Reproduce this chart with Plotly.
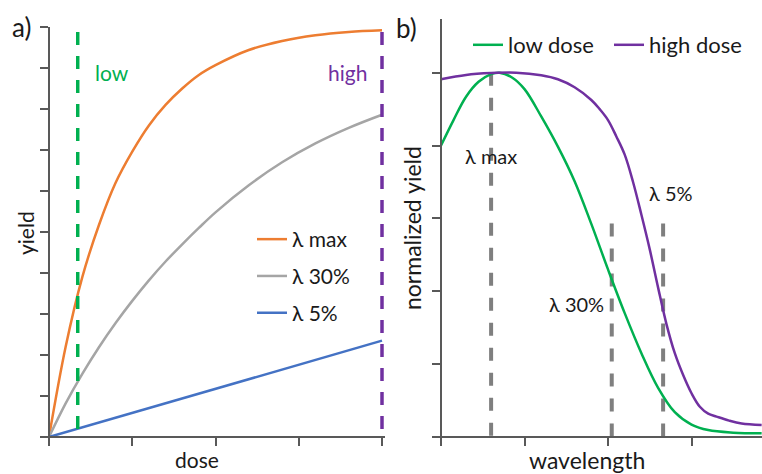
import plotly.graph_objects as go

W, H = 762, 474
FONT = "Lato"

# ---------------- panel a data ----------------
dose = [0, 0.2, 0.4, 0.6, 0.8, 1.0, 1.2, 1.4, 1.6, 1.8, 2.0, 2.4, 2.8, 3.2, 3.6, 4.0]
yield_max = [0, 2.2, 3.9, 5.17, 6.2, 6.96, 7.6, 8.1, 8.5, 8.83, 9.07, 9.44, 9.66,
             9.8, 9.88, 9.92]
yield_30 = [0, 0.82, 1.54, 2.19, 2.78, 3.32, 3.82, 4.28, 4.7, 5.1, 5.48, 6.14, 6.7,
            7.16, 7.54, 7.86]
dose_lin = [0, 1, 2, 3, 4]
yield_5 = [0, 0.59, 1.18, 1.77, 2.35]
low_dose_x = [0.345, 0.345]
high_dose_x = [4, 4]
dose_marker_y = [9.88, 0]
series_a_names = ["λ max", "λ 30%", "λ 5%"]

# ---------------- panel b data ----------------
wl_low = [0, 0.15, 0.3, 0.45, 0.6, 0.7, 0.85, 1.0, 1.2, 1.4, 1.6, 1.8, 2.0,
          2.2, 2.4, 2.6, 2.8, 3.0, 3.2, 3.5, 3.84]
norm_low = [0.80, 0.87, 0.934, 0.975, 0.996, 1.0, 0.987, 0.955, 0.88, 0.797,
            0.702, 0.585, 0.46, 0.34, 0.23, 0.135, 0.068, 0.034, 0.019,
            0.012, 0.010]
wl_high = [0, 0.3, 0.6, 0.9, 1.2, 1.4, 1.6, 1.8, 1.9, 2.0, 2.1, 2.2, 2.3,
           2.4, 2.5, 2.6, 2.7, 2.8, 2.9, 3.0, 3.1, 3.2, 3.3, 3.45, 3.6, 3.84]
norm_high = [0.982, 0.994, 0.999, 1.0, 0.993, 0.982, 0.96, 0.925, 0.9, 0.87,
             0.825, 0.775, 0.70, 0.61, 0.515, 0.41, 0.31, 0.23, 0.17, 0.12,
             0.083, 0.064, 0.056, 0.045, 0.037, 0.033]
lam_max_x = [0.60, 0.60]
lam_max_y = [1.0, 0]
lam_30_x = [2.045, 2.045]
lam_5_x = [2.66, 2.66]
lam_low_y = [0.586, 0]
series_b_names = ["low dose", "high dose"]

ORANGE, GRAY, BLUE = "#ED7D31", "#A5A5A5", "#4472C4"
GREEN, PURPLE, DGRAY = "#00B050", "#7030A0", "#7F7F7F"
AXIS = "#595959"
TXT = "#1a1a1a"


def px_x(p):
    return p / W


def px_y(p):
    return (H - p) / H


fig = go.Figure()

# panel a curves
fig.add_trace(go.Scatter(x=dose, y=yield_max, mode="lines", name=series_a_names[0],
                         line=dict(color=ORANGE, width=2.5, shape="spline"),
                         legend="legend", legendgroup="a1", xaxis="x", yaxis="y"))
fig.add_trace(go.Scatter(x=dose, y=yield_30, mode="lines", name=series_a_names[1],
                         line=dict(color=GRAY, width=2.5, shape="spline"),
                         legend="legend", legendgroup="a2", xaxis="x", yaxis="y"))
fig.add_trace(go.Scatter(x=dose_lin, y=yield_5, mode="lines", name=series_a_names[2],
                         line=dict(color=BLUE, width=2.5), legend="legend",
                         legendgroup="a3", xaxis="x", yaxis="y"))
fig.add_trace(go.Scatter(x=low_dose_x, y=dose_marker_y, mode="lines", showlegend=False,
                         line=dict(color=GREEN, width=3.5, dash="13px,11px"),
                         xaxis="x", yaxis="y"))
fig.add_trace(go.Scatter(x=high_dose_x, y=dose_marker_y, mode="lines", showlegend=False,
                         line=dict(color=PURPLE, width=3.5, dash="13px,11px"),
                         xaxis="x", yaxis="y"))

# panel b
fig.add_trace(go.Scatter(x=lam_max_x, y=lam_max_y, mode="lines", showlegend=False,
                         line=dict(color=DGRAY, width=4, dash="13px,12px"),
                         xaxis="x2", yaxis="y2"))
for xs in (lam_30_x, lam_5_x):
    fig.add_trace(go.Scatter(x=xs, y=lam_low_y, mode="lines", showlegend=False,
                             line=dict(color=DGRAY, width=4, dash="13px,12px"),
                             xaxis="x2", yaxis="y2"))
fig.add_trace(go.Scatter(x=wl_low, y=norm_low, mode="lines", name=series_b_names[0],
                         line=dict(color=GREEN, width=2.5, shape="spline"),
                         legend="legend2", xaxis="x2", yaxis="y2"))
fig.add_trace(go.Scatter(x=wl_high, y=norm_high, mode="lines", name=series_b_names[1],
                         line=dict(color=PURPLE, width=2.5, shape="spline"),
                         legend="legend2", xaxis="x2", yaxis="y2"))

axis_common = dict(showgrid=False, zeroline=False, showline=True, linecolor=AXIS,
                   linewidth=1.5, ticks="outside", ticklen=8, tickwidth=1.5,
                   tickcolor=AXIS, showticklabels=False, fixedrange=True)

# panel a axes: x from px 49 (0) to 382 (4); y from px 437 (0) to 27 (10)
ppu_a = (382 - 49) / 4
fig.update_layout(
    xaxis=dict(axis_common, range=[-0.03, 4.04],
               domain=[px_x(49 - 0.03 * ppu_a), px_x(382 + 0.04 * ppu_a)],
               tickvals=[0, 1, 2, 3, 4], anchor="free", position=px_y(437)),
    yaxis=dict(axis_common, range=[0, 10], domain=[px_y(437), px_y(27)],
               tickvals=list(range(0, 11)), anchor="free", position=px_x(49)),
)
# panel b axes: x px 441 (0) step 83.5; y px 437 (0) to 72.7 (1)
ppu_b = 83.5
ppu_by = (437 - 72.7)
fig.update_layout(
    xaxis2=dict(axis_common, range=[-0.03, (762 - 441) / ppu_b],
                domain=[px_x(441 - 0.03 * ppu_b), 1.0],
                tickvals=[0, 1, 2, 3], anchor="free", position=px_y(437)),
    yaxis2=dict(axis_common, range=[0, (437 - 19) / ppu_by],
                domain=[px_y(437), px_y(19)],
                tickvals=[0, 0.2, 0.4, 0.6, 0.8, 1.0], anchor="free",
                position=px_x(441)),
)

fig.update_layout(
    width=W, height=H, margin=dict(l=0, r=0, t=0, b=0),
    paper_bgcolor="white", plot_bgcolor="white",
    font=dict(family=FONT, color=TXT, size=21),
    legend=dict(x=px_x(252), y=px_y(219), xanchor="left", yanchor="top",
                bgcolor="rgba(0,0,0,0)", font=dict(size=21, color=TXT),
                tracegroupgap=6.5, itemwidth=30),
    legend2=dict(x=px_x(468), y=px_y(45), xanchor="left", yanchor="middle",
                 orientation="h", bgcolor="rgba(0,0,0,0)",
                 font=dict(size=22, color=TXT), itemwidth=30,
                 entrywidth=96, entrywidthmode="pixels"),
    showlegend=True,
)

ann = []


def add_text(text, x, y, size, xref="paper", yref="paper", color=TXT, angle=0,
             yanchor="middle"):
    ann.append(dict(text=text, x=x, y=y, xref=xref, yref=yref, showarrow=False,
                    textangle=angle, xanchor="center", yanchor=yanchor,
                    font=dict(size=size, color=color, family=FONT)))


# panel labels
add_text("a)", px_x(21), px_y(27), 26)
add_text("b)", px_x(406), px_y(28), 26)
# axis titles
add_text("yield", px_x(25), px_y(233), 21, angle=-90)
add_text("dose", px_x(197), px_y(474), 21, yanchor="bottom")
add_text("normalized yield", px_x(412), px_y(228), 23, angle=-90)
add_text("wavelength", px_x(587), px_y(460), 23)
# panel a text
add_text("low", 0.757, 8.9, 21, xref="x", yref="y", color=GREEN)
add_text("high", 3.58, 8.9, 21, xref="x", yref="y", color=PURPLE)
# panel b text
add_text("λ max", 0.60, 0.772, 20, xref="x2", yref="y2")
add_text("λ 30%", 1.62, 0.365, 20, xref="x2", yref="y2")
add_text("λ 5%", 2.75, 0.67, 20, xref="x2", yref="y2")
fig.update_layout(annotations=ann)

fig.write_html("out.html", config={"displayModeBar": False},
               post_script="document.body.style.margin='0px';"
                           "document.body.style.overflow='hidden';")
